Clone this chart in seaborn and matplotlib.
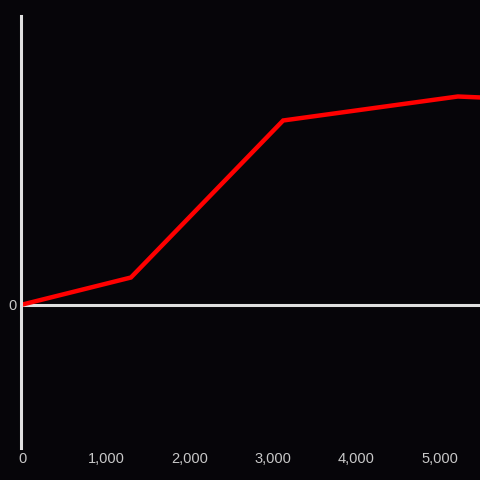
import numpy as np
import matplotlib
matplotlib.use("Agg")
import matplotlib.pyplot as plt
import seaborn as sns

# Data
x_values = [0, 1300, 3125, 5220, 5500]
y_values = [0, 27, 184, 208, 207]
x_ticks = [0, 1000, 2000, 3000, 4000, 5000]
x_tick_labels = ["0", "1,000", "2,000", "3,000", "4,000", "5,000"]
y_ticks = [0]
y_tick_labels = ["0"]

bg = "#060509"
axis_col = "#e0e0e0"
text_col = "#c8c8c8"

sns.set_style("dark")
plt.rcParams["font.family"] = ["Liberation Sans", "DejaVu Sans"]

fig = plt.figure(figsize=(4.8, 4.8), dpi=100, facecolor=bg)
W = 480.0
ax = fig.add_axes([20.5 / W, 32 / W, (W - 20.5) / W, 432 / W])
ax.set_facecolor(bg)

sns.lineplot(x=x_values, y=y_values, ax=ax, color="#ff0000", linewidth=3.2,
             solid_joinstyle="miter", solid_capstyle="butt")

# px per 1000 ~ 83.4, zero at ~2 px right of the axis
px_per_unit = 83.4 / 1000
ax.set_xlim(-2 / px_per_unit, (W - 20.5 - 2) / px_per_unit)
ax.set_ylim(-143.5, 288.5)

ax.axhline(0, color=axis_col, linewidth=2.2, zorder=1)
for side in ["top", "right", "bottom"]:
    ax.spines[side].set_visible(False)
ax.spines["left"].set_color(axis_col)
ax.spines["left"].set_linewidth(2.2)

ax.set_xticks(x_ticks, x_tick_labels)
ax.set_yticks(y_ticks, y_tick_labels)
ax.tick_params(axis="both", length=0, colors=text_col, labelsize=10.5, pad=3)
ax.grid(False)
ax.set_xlabel("")
ax.set_ylabel("")

fig.savefig("out.png", dpi=100, facecolor=bg)
